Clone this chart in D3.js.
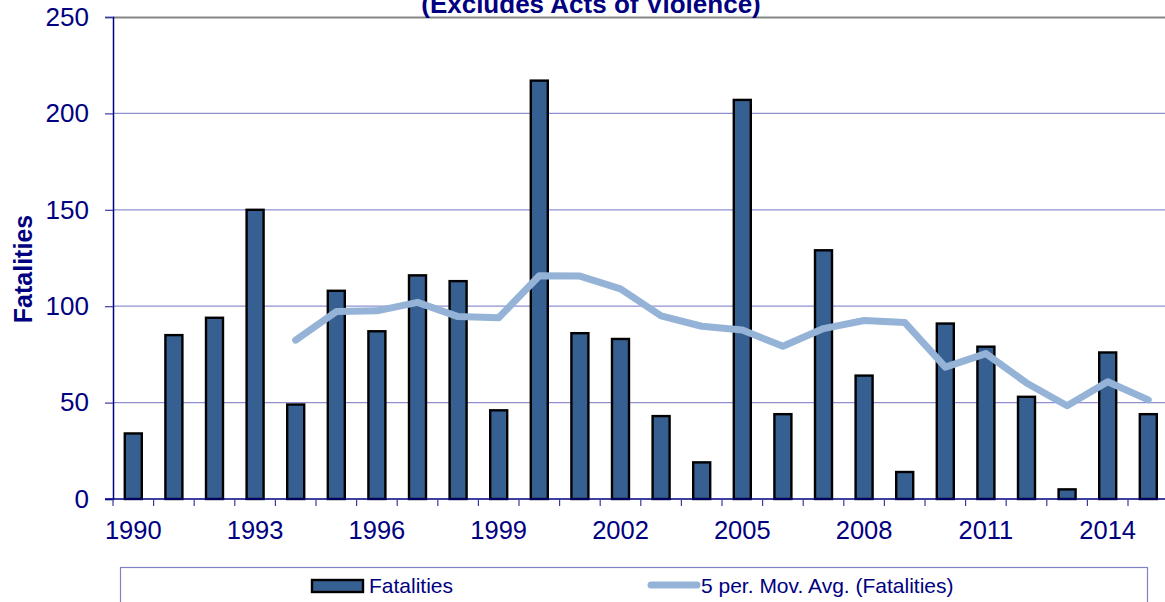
<!DOCTYPE html>
<html>
<head>
<meta charset="utf-8">
<script src="https://cdn.jsdelivr.net/npm/d3@7"></script>
<style>
  html, body { margin: 0; padding: 0; background: #ffffff; }
  svg { display: block; font-family: Arial, "Liberation Sans", sans-serif; }
</style>
</head>
<body>
<svg id="chart" width="1165" height="602"></svg>
<script>
// Annual fatalities, 1990–2015
const years = d3.range(1990, 2016);
const fatalities = [34, 85, 94, 150, 49, 108, 87, 116, 113, 46, 217, 86, 83, 43, 19,
                    207, 44, 129, 64, 14, 91, 79, 53, 5, 76, 44];
// 5-period moving average, starting with 1994
const avgYears = d3.range(1994, 2016);
const movingAvg = [82.4, 97.2, 97.6, 102, 94.6, 94, 115.8, 115.6, 109, 95, 89.6,
                   87.6, 79.2, 88.4, 92.6, 91.6, 68.4, 75.4, 60.2, 48.4, 60.8, 51.4];
const yTicks = [0, 50, 100, 150, 200, 250];
const labelYears = [1990, 1993, 1996, 1999, 2002, 2005, 2008, 2011, 2014];

const navy = "#000080";
const gridColor = "#8f8fd0";
const barColor = "#376092";
const lineColor = "#95b3d7";

const svg = d3.select("#chart");
const plotLeft = 113, plotTop = 17, plotBottom = 499;
const band = 40.6;

const x = d3.scaleBand().domain(years).range([plotLeft, plotLeft + band * years.length]).padding(0);
const y = d3.scaleLinear().domain([0, 250]).range([plotBottom, plotTop]);

// Horizontal gridlines
svg.append("g").selectAll("line")
  .data(yTicks.filter(t => t > 0 && t < 250))
  .join("line")
  .attr("x1", plotLeft).attr("x2", 1165)
  .attr("y1", d => y(d)).attr("y2", d => y(d))
  .attr("stroke", gridColor).attr("stroke-width", 1.2);

// Top border of the plot area
svg.append("line")
  .attr("x1", plotLeft).attr("x2", 1165)
  .attr("y1", y(250) + 0.5).attr("y2", y(250) + 0.5)
  .attr("stroke", "#858585").attr("stroke-width", 2.2);

// Bars
const bw = 17;
svg.append("g").selectAll("rect")
  .data(years.map((yr, i) => ({ yr, v: fatalities[i] })))
  .join("rect")
  .attr("x", d => x(d.yr) + x.bandwidth() / 2 - bw / 2)
  .attr("y", d => y(d.v))
  .attr("width", bw)
  .attr("height", d => y(0) - y(d.v))
  .attr("fill", barColor)
  .attr("stroke", "#000")
  .attr("stroke-width", 2.4);

// Moving-average line
const line = d3.line()
  .x(d => x(d.yr) + x.bandwidth() / 2)
  .y(d => y(d.v));
svg.append("path")
  .datum(avgYears.map((yr, i) => ({ yr, v: movingAvg[i] })))
  .attr("d", line)
  .attr("fill", "none")
  .attr("stroke", lineColor)
  .attr("stroke-width", 7)
  .attr("stroke-linejoin", "round")
  .attr("stroke-linecap", "round");

// Y axis
const yAxis = svg.append("g").attr("transform", `translate(${plotLeft},0)`)
  .call(d3.axisLeft(y).tickValues(yTicks).tickSize(8).tickPadding(16));
yAxis.select(".domain").attr("stroke", navy).attr("stroke-width", 1.5);
yAxis.selectAll(".tick line").attr("stroke", "#3a3aa0").attr("stroke-width", 1.2);
yAxis.selectAll(".tick text")
  .attr("fill", navy).attr("font-size", 26)
  .attr("font-family", "Arial, 'Liberation Sans', sans-serif");

// X axis: ticks at category boundaries, labels every third year
const xAxisG = svg.append("g");
xAxisG.append("line")
  .attr("x1", plotLeft - 8).attr("x2", 1165)
  .attr("y1", plotBottom).attr("y2", plotBottom)
  .attr("stroke", navy).attr("stroke-width", 1.5);
xAxisG.selectAll("line.tk")
  .data(years)
  .join("line").attr("class", "tk")
  .attr("x1", d => x(d)).attr("x2", d => x(d))
  .attr("y1", plotBottom).attr("y2", plotBottom + 7)
  .attr("stroke", "#3a3aa0").attr("stroke-width", 1.2);
xAxisG.selectAll("text")
  .data(labelYears)
  .join("text")
  .attr("x", d => x(d) + x.bandwidth() / 2)
  .attr("y", 539)
  .attr("text-anchor", "middle")
  .attr("fill", navy)
  .attr("font-size", 25.5)
  .text(d => d);

// Y axis title
svg.append("text")
  .attr("transform", "translate(32,269) rotate(-90)")
  .attr("text-anchor", "middle")
  .attr("fill", navy)
  .attr("font-weight", "bold")
  .attr("font-size", 25)
  .text("Fatalities");

// Chart subtitle
svg.append("text")
  .attr("x", 591).attr("y", 13)
  .attr("text-anchor", "middle")
  .attr("fill", navy)
  .attr("font-weight", "bold")
  .attr("font-size", 26)
  .text("(Excludes Acts of Violence)");

// Legend
const legend = svg.append("g");
legend.append("rect")
  .attr("x", 120.5).attr("y", 567.5)
  .attr("width", 1027).attr("height", 60)
  .attr("fill", "#fff")
  .attr("stroke", "#8080c8").attr("stroke-width", 1.2);
legend.append("rect")
  .attr("x", 312).attr("y", 580).attr("width", 51).attr("height", 12)
  .attr("fill", barColor).attr("stroke", "#000").attr("stroke-width", 2.4);
legend.append("text")
  .attr("x", 369).attr("y", 593)
  .attr("fill", navy).attr("font-size", 21)
  .text("Fatalities");
legend.append("line")
  .attr("x1", 651).attr("x2", 697).attr("y1", 585).attr("y2", 585)
  .attr("stroke", lineColor).attr("stroke-width", 7).attr("stroke-linecap", "round");
legend.append("text")
  .attr("x", 701).attr("y", 593)
  .attr("fill", navy).attr("font-size", 21)
  .text("5 per. Mov. Avg. (Fatalities)");
</script>
</body>
</html>
